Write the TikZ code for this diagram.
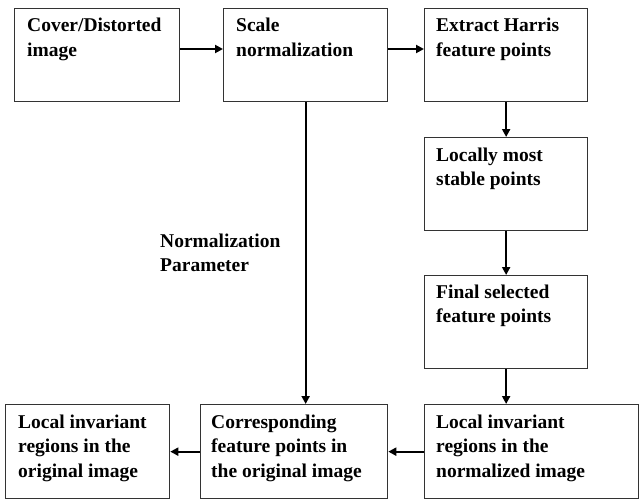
\documentclass[tikz,border=0pt]{standalone}
\usepackage{fontspec}
\setmainfont{Liberation Serif}
\usetikzlibrary{arrows.meta,calc}
\begin{document}
\begin{tikzpicture}[x=1pt,y=-1pt,
  box/.style={draw=black!80, line width=1.3pt, inner sep=0pt, anchor=north west},
  lbl/.style={inner sep=0pt, anchor=base west, font=\fontsize{19.5}{24.5}\selectfont\bfseries},
  arr/.style={line width=2pt, -{Triangle[length=8pt,width=8pt]}}]
\useasboundingbox (0,0) rectangle (639,500);
\node[box, minimum width=165pt, minimum height=93pt] (b1) at (14,8) {};
\node[box, minimum width=164pt, minimum height=93pt] (b2) at (223,8) {};
\node[box, minimum width=163pt, minimum height=93pt] (b3) at (424,8) {};
\node[box, minimum width=163pt, minimum height=93pt] (b4) at (424,137) {};
\node[box, minimum width=163pt, minimum height=93pt] (b5) at (424,275) {};
\node[box, minimum width=214pt, minimum height=94pt] (b6) at (424,404) {};
\node[box, minimum width=187pt, minimum height=94pt] (b7) at (200,404) {};
\node[box, minimum width=164pt, minimum height=94pt] (b8) at (5,404) {};

\node[lbl] (t1) at ($(b1.north west)+(13,24)$) {\parbox[t]{160pt}{\raggedright Cover/Distorted\\image}};
\node[lbl] (t2) at ($(b2.north west)+(13,24)$) {\parbox[t]{160pt}{\raggedright Scale\\normalization}};
\node[lbl] (t3) at ($(b3.north west)+(12,24)$) {\parbox[t]{160pt}{\raggedright Extract Harris\\feature points}};
\node[lbl] (t4) at ($(b4.north west)+(12,24)$) {\parbox[t]{160pt}{\raggedright Locally most\\stable points}};
\node[lbl] (t5) at ($(b5.north west)+(12,23)$) {\parbox[t]{160pt}{\raggedright Final selected\\feature points}};
\node[lbl] (t6) at ($(b6.north west)+(12,24)$) {\parbox[t]{200pt}{\raggedright Local invariant\\regions in the\\normalized image}};
\node[lbl] (t7) at ($(b7.north west)+(11,24)$) {\parbox[t]{180pt}{\raggedright Corresponding\\feature points in\\the original image}};
\node[lbl] (t8) at ($(b8.north west)+(13,24)$) {\parbox[t]{160pt}{\raggedright Local invariant\\regions in the\\original image}};
\node[lbl] (np) at (160,247) {\parbox[t]{160pt}{\raggedright Normalization\\Parameter}};

\draw[arr] ($(b1.north east)+(0,41)$) -- ($(b2.north west)+(0,41)$);
\draw[arr] ($(b2.north east)+(0,41)$) -- ($(b3.north west)+(0,41)$);
\draw[arr] (b3.south) -- (b4.north);
\draw[arr] (b4.south) -- (b5.north);
\draw[arr] (b5.south) -- (b5.south |- b6.north);
\draw[arr] (b2.south) -- (b2.south |- b7.north);
\draw[arr] (b6.west) -- (b7.east);
\draw[arr] (b7.west) -- (b8.east);
\end{tikzpicture}
\end{document}
